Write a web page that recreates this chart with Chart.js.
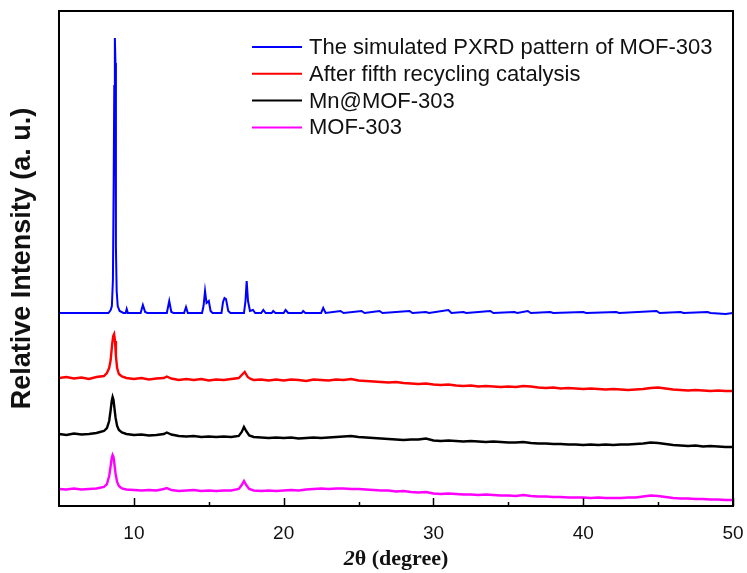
<!DOCTYPE html>
<html>
<head>
<meta charset="utf-8">
<style>
  html, body { margin: 0; padding: 0; background: #ffffff; }
  #wrap { width: 747px; height: 573px; }
</style>
<script src="https://cdn.jsdelivr.net/npm/chart.js@4.4.1/dist/chart.umd.min.js"></script>
</head>
<body>
<div id="wrap"><canvas id="c" width="747" height="573"></canvas></div>
<script>
// ---------------- DATA ----------------
const seriesLabels = [
  'The simulated PXRD pattern of MOF-303',
  'After fifth recycling catalysis',
  'Mn@MOF-303',
  'MOF-303'
];
const seriesColors = ['#0000ff', '#ff0000', '#000000', '#ff00ff'];

const xTickValues = [10, 20, 30, 40, 50];
const xMinorTicks = [15, 25, 35, 45];

// Simulated pattern (blue), intensities in arbitrary units (stacked offset included)
const simX = [5, 8.3, 8.45, 8.53, 8.6, 8.65, 8.69, 8.73, 8.77, 8.8, 8.85, 8.92, 9.05, 9.3, 9.45, 9.52, 9.6,
  10.45, 10.6, 10.75, 10.9, 12.2, 12.36, 12.5, 12.65, 13.35, 13.48, 13.6, 14.55, 14.65, 14.75, 14.85,
  15.0, 15.12, 15.25, 15.85, 15.95, 16.05, 16.15, 16.3, 16.45, 17.35, 17.45, 17.53, 17.62, 17.75,
  17.95, 18.1, 18.5, 18.64, 18.8, 19.2, 19.3, 19.45, 20.0, 20.13, 20.3, 21.2, 21.3, 21.45, 22.5,
  22.64, 22.8, 23.8, 24.0, 25.2, 25.4, 26.4, 26.6, 28.4, 28.6, 29.5, 29.7, 31.0, 31.2, 32.0, 32.2,
  33.8, 34.0, 35.4, 35.6, 36.3, 36.5, 37.8, 38.0, 40.0, 40.2, 42.2, 42.4, 44.9, 45.1, 46.5, 46.7,
  48.3, 48.5, 49.5, 50];
const simY = [193, 193, 196, 200, 226, 323, 420, 468, 443, 259, 215, 200, 195, 193, 193, 197, 193,
  193, 201, 194, 193, 193, 205, 194, 193, 193, 199, 193, 193, 200, 215, 203,
  205, 195, 193, 193, 204, 208, 207, 195, 193, 193, 205, 225, 205, 195,
  196, 193, 193, 196, 193, 193, 195, 193, 193, 196, 193, 193, 195, 193, 193,
  198, 193, 195, 193, 195, 193, 195, 193, 195, 193, 194, 193, 196, 193, 194, 193,
  195, 193, 194, 193, 195, 193, 194, 193, 194, 193, 194, 193, 195, 193, 194, 193,
  194, 193, 192, 193];

// After fifth recycling catalysis (red)
const recX = [5, 5.5, 6, 6.5, 7, 7.5, 8, 8.2, 8.35, 8.45, 8.55, 8.62, 8.68, 8.74, 8.8, 8.88, 9, 9.2, 9.5,
  10, 10.5, 11, 11.5, 12, 12.2, 12.5, 13, 13.5, 14, 14.5, 15, 15.5, 16, 16.5, 17, 17.2, 17.4, 17.6, 17.8,
  18, 18.5, 19, 19.5, 20, 20.5, 21, 21.5, 22, 22.5, 23, 23.5, 24, 24.5, 25, 25.5, 26, 26.5, 27, 27.5,
  28, 28.5, 29, 29.5, 30, 30.5, 31, 31.5, 32, 32.5, 33, 33.5, 34, 34.5, 35, 35.5, 36, 36.5, 37, 37.5,
  38, 38.5, 39, 39.5, 40, 40.5, 41, 41.5, 42, 42.5, 43, 43.5, 44, 44.5, 45, 45.5, 46, 46.5, 47, 47.5,
  48, 48.5, 49, 49.5, 50];
const recY = [128, 129, 127.5, 128.5, 127, 129, 130, 133, 138, 146, 162, 170, 172, 165, 150, 138, 132, 129.5, 128,
  127, 128, 126.5, 127.5, 128, 129.5, 127.5, 126, 127, 126, 127, 125.5, 126.5, 126, 127, 128, 131, 134, 129, 127,
  126, 126.5, 125.5, 126.5, 125.5, 126.5, 126, 125, 126.5, 126, 125.5, 126.5, 126, 127, 125.5, 125, 124.5, 124, 123.5, 124,
  123, 122.5, 122, 122.5, 121.5, 121, 121.5, 120.5, 120, 120.5, 119.5, 120, 119.5, 119, 119.5, 119, 120, 119.5, 118.5, 118,
  118.5, 117.5, 118, 117.5, 117, 117.5, 117, 116.5, 117, 116.5, 116, 116.5, 117, 118, 118.5, 117.5, 116.5, 116, 115.5, 116,
  115.5, 115, 115.5, 115, 115];

// Mn@MOF-303 (black)
const mnX = [5, 5.5, 6, 6.5, 7, 7.5, 8, 8.2, 8.35, 8.45, 8.52, 8.58, 8.64, 8.7, 8.78, 8.88, 9, 9.2, 9.5,
  10, 10.5, 11, 11.5, 12, 12.2, 12.5, 13, 13.5, 14, 14.5, 15, 15.5, 16, 16.5, 17, 17.2, 17.35, 17.5, 17.7,
  18, 18.5, 19, 19.5, 20, 20.5, 21, 21.5, 22, 22.5, 23, 23.5, 24, 24.5, 25, 25.5, 26, 26.5, 27, 27.5,
  28, 28.5, 29, 29.5, 30, 30.5, 31, 31.5, 32, 32.5, 33, 33.5, 34, 34.5, 35, 35.5, 36, 36.5, 37, 37.5,
  38, 38.5, 39, 39.5, 40, 40.5, 41, 41.5, 42, 42.5, 43, 43.5, 44, 44.5, 45, 45.5, 46, 46.5, 47, 47.5,
  48, 48.5, 49, 49.5, 50];
const mnY = [72, 71, 72.5, 71.5, 72, 73, 75, 78, 85, 96, 105, 109, 106, 98, 88, 80, 76, 73.5, 72,
  71, 71.5, 70.5, 71, 72, 73.5, 71.5, 70, 69.5, 70, 69, 69.5, 69, 69.5, 69, 70, 74, 79, 75, 70.5,
  69, 68.5, 68, 68.5, 68, 68.5, 67.5, 68, 68.5, 68, 68.5, 69, 69.5, 70, 69, 68.5, 68, 67.5, 67, 66.5,
  66, 66.5, 66.5, 67.5, 65.5, 65, 65.5, 65, 64.5, 65, 64.5, 64, 64.5, 64, 63.5, 63.5, 64, 63, 62.5, 62.5,
  62, 62, 61.5, 61.5, 61, 61.5, 61, 61.5, 61, 61.5, 61.5, 62, 62.5, 63.5, 63, 62, 61, 60.5, 60, 60.5,
  59.5, 60, 59.5, 59, 59];

// MOF-303 (magenta)
const mofX = mnX;
const mofY = [17, 16.5, 17.5, 16.5, 17, 17.5, 19, 22, 30, 40, 48, 51, 49, 42, 32, 24, 20, 17.5, 16.5,
  16, 15.5, 16, 15.5, 17, 18, 16, 15, 15.5, 16, 15, 15.5, 15, 15.5, 15.5, 17, 21, 25, 21, 17,
  15.5, 15, 15.5, 15, 15.5, 16, 15.5, 16.5, 17, 17.5, 17, 17.5, 17.5, 17, 17, 16.5, 16, 15.5, 15.5, 14.5,
  15, 14, 13.5, 14, 12.5, 12, 12.5, 12, 11.5, 11.5, 11, 11.5, 11, 10.5, 10.5, 10, 11, 10, 9.5, 9.5,
  9, 9, 8.5, 8.5, 8.5, 8, 8.5, 8, 8, 8, 8.5, 8.5, 9.5, 10.5, 10, 9, 8, 7.5, 7.5, 7,
  7, 6.5, 6.5, 6, 6];

// ---------------- CHART ----------------
const seriesX = [simX, recX, mnX, mofX];
const seriesY = [simY, recY, mnY, mofY];

const datasets = seriesLabels.map((lab, k) => ({
  label: lab,
  data: seriesX[k].map((x, i) => ({ x: x, y: seriesY[k][i] })),
  borderColor: seriesColors[k],
  backgroundColor: seriesColors[k],
  borderWidth: k === 0 ? 2 : 2.4,
  pointRadius: 0,
  tension: 0,
  fill: false
}));

const frame = {
  id: 'frame',
  afterDatasetsDraw(chart) {
    const ctx = chart.ctx;
    const a = chart.chartArea;
    const xs = chart.scales.x;
    ctx.save();
    // plot box
    ctx.strokeStyle = '#000';
    ctx.lineWidth = 2;
    ctx.strokeRect(a.left, a.top, a.right - a.left, a.bottom - a.top);
    // inward ticks
    ctx.lineWidth = 1.5;
    xTickValues.concat(xMinorTicks).forEach(v => {
      const px = Math.round(xs.getPixelForValue(v)) + 0.5;
      const len = xTickValues.includes(v) ? 8 : 4;
      ctx.beginPath();
      ctx.moveTo(px, a.bottom);
      ctx.lineTo(px, a.bottom - len);
      ctx.stroke();
    });
    // legend
    ctx.font = '22px "Liberation Sans", Arial, sans-serif';
    ctx.textBaseline = 'middle';
    ctx.textAlign = 'left';
    chart.data.datasets.forEach((ds, i) => {
      const y = a.top + 36 + i * 26.8;
      const x0 = a.left + 193;
      ctx.strokeStyle = ds.borderColor;
      ctx.lineWidth = 2;
      ctx.beginPath();
      ctx.moveTo(x0, y);
      ctx.lineTo(x0 + 50, y);
      ctx.stroke();
      ctx.fillStyle = '#111';
      ctx.fillText(ds.label, x0 + 57, y + 1);
    });
    // y axis title
    ctx.save();
    ctx.translate(23, (a.top + a.bottom) / 2);
    ctx.rotate(-Math.PI / 2);
    ctx.font = 'bold 27px "Liberation Sans", Arial, sans-serif';
    ctx.textAlign = 'center';
    ctx.textBaseline = 'middle';
    ctx.fillStyle = '#111';
    ctx.fillText('Relative Intensity (a. u.)', 0, 0);
    ctx.restore();
    // x axis title: italic "2", then "θ (degree)"
    const p1 = '2', p2 = 'θ (degree)';
    const f1 = 'italic bold 22px "Liberation Serif", "Times New Roman", serif';
    const f2 = 'bold 22px "Liberation Serif", "Times New Roman", serif';
    ctx.font = f1; const w1 = ctx.measureText(p1).width;
    ctx.font = f2; const w2 = ctx.measureText(p2).width;
    const cx = (a.left + a.right) / 2;
    const ty = 559;
    let sx = cx - (w1 + w2) / 2;
    ctx.textAlign = 'left';
    ctx.textBaseline = 'middle';
    ctx.fillStyle = '#111';
    ctx.font = f1; ctx.fillText(p1, sx, ty);
    ctx.font = f2; ctx.fillText(p2, sx + w1, ty);
    ctx.restore();
  }
};

new Chart(document.getElementById('c'), {
  type: 'line',
  data: { datasets: datasets },
  options: {
    responsive: false,
    animation: false,
    events: [],
    layout: { padding: { left: 0, right: 14, top: 11, bottom: 0 } },
    plugins: { legend: { display: false }, tooltip: { enabled: false } },
    scales: {
      x: {
        type: 'linear',
        min: 5,
        max: 50,
        grid: { display: false },
        border: { display: false },
        afterBuildTicks: s => { s.ticks = xTickValues.map(v => ({ value: v })); },
        ticks: {
          color: '#111',
          font: { family: '"Liberation Sans", Arial, sans-serif', size: 19 },
          padding: 8,
          maxRotation: 0,
          autoSkip: false
        },
        afterFit: s => { s.height = 67; s.paddingLeft = 0; s.paddingRight = 0; }
      },
      y: {
        type: 'linear',
        min: 0,
        max: 495,
        grid: { display: false },
        border: { display: false },
        ticks: { display: false },
        afterFit: s => { s.width = 59; }
      }
    }
  },
  plugins: [frame]
});
</script>
</body>
</html>
